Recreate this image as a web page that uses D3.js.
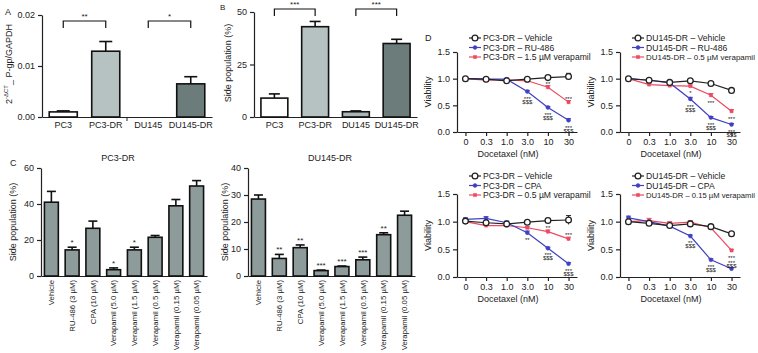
<!DOCTYPE html>
<html>
<head>
<meta charset="utf-8">
<script src="https://cdn.jsdelivr.net/npm/d3@7"></script>
<style>
body { margin: 0; background: #fff; }
text { font-family: "Liberation Sans", Arial, sans-serif; fill: #222; }
.axis path, .axis line { stroke: #222; stroke-width: 1.2; }
</style>
</head>
<body>
<div id="chart"></div>
<script>
// ---- panel A: qPCR P-gp
const cellLines = ["PC3", "PC3-DR", "DU145", "DU145-DR"];
const pgpValues = [0.001, 0.0129, 0, 0.0065];
const pgpErrors = [0.0002, 0.0019, 0, 0.0014];
const pgpTicks = [0, 0.01, 0.02];

// ---- panel B: side population
const spValues = [9, 43, 2.5, 35];
const spErrors = [2, 2.5, 0.4, 2];
const spTicks = [0, 25, 50];
const lineColors = ["#ffffff", "#b6c2c2", "#aab5b5", "#6c7c7b"];

// ---- panel C: side population after treatment
const treatments = ["Vehicle", "RU-486 (3 µM)", "CPA (10 µM)", "Verapamil (5.0 µM)",
    "Verapamil (1.5 µM)", "Verapamil (0.5 µM)", "Verapamil (0.15 µM)", "Verapamil (0.05 µM)"];
const pc3Sp = [41, 14.5, 26.5, 3.5, 14.5, 21.5, 39, 50];
const pc3SpErr = [6, 1.5, 4, 1, 1.5, 1, 3.5, 3];
const pc3SpStars = ["", "*", "", "*", "*", "", "", ""];
const duSp = [28.5, 6.5, 10.5, 2, 3.5, 6, 15.3, 22.5];
const duSpErr = [1.5, 1.5, 1, 0.2, 0.2, 1, 0.7, 1.5];
const duSpStars = ["", "**", "**", "***", "***", "***", "**", ""];

// ---- panel D: viability vs docetaxel
const doses = ["0", "0.3", "1.0", "3.0", "10", "30"];
const viaTicks = [0, 0.5, 1.0, 1.5];

const pc3VehicleA = [1.00, 0.99, 0.96, 0.99, 1.02, 1.04];
const pc3VehicleAErr = [0.02, 0.02, 0.03, 0.03, 0.04, 0.06];
const pc3Ru486 = [1.00, 0.99, 0.99, 0.76, 0.46, 0.22];
const pc3Ru486Err = [0.02, 0.02, 0.02, 0.02, 0.02, 0.03];
const pc3Ver15 = [1.00, 0.97, 0.98, 0.96, 0.84, 0.56];
const pc3Ver15Err = [0.02, 0.02, 0.02, 0.02, 0.03, 0.03];

const duVehicleA = [1.00, 0.97, 0.93, 0.96, 0.91, 0.78];
const duVehicleAErr = [0.02, 0.02, 0.02, 0.02, 0.02, 0.02];
const duRu486 = [1.00, 0.97, 0.92, 0.62, 0.27, 0.14];
const duRu486Err = [0.02, 0.02, 0.02, 0.03, 0.02, 0.02];
const duVer05 = [1.00, 0.89, 0.87, 0.86, 0.69, 0.39];
const duVer05Err = [0.02, 0.02, 0.02, 0.02, 0.03, 0.03];

const pc3VehicleB = [1.01, 0.98, 0.96, 0.99, 1.02, 1.03];
const pc3VehicleBErr = [0.03, 0.02, 0.02, 0.03, 0.04, 0.08];
const pc3Cpa = [1.04, 1.06, 0.98, 0.80, 0.52, 0.24];
const pc3CpaErr = [0.03, 0.03, 0.03, 0.03, 0.02, 0.02];
const pc3Ver05 = [1.00, 0.93, 0.93, 0.89, 0.82, 0.69];
const pc3Ver05Err = [0.02, 0.02, 0.02, 0.02, 0.03, 0.03];

const duVehicleB = [1.00, 0.97, 0.93, 0.96, 0.91, 0.78];
const duVehicleBErr = [0.02, 0.02, 0.02, 0.02, 0.02, 0.02];
const duCpa = [1.07, 1.00, 0.92, 0.74, 0.31, 0.15];
const duCpaErr = [0.03, 0.02, 0.02, 0.02, 0.02, 0.02];
const duVer015 = [1.00, 1.02, 0.97, 0.99, 0.89, 0.48];
const duVer015Err = [0.03, 0.04, 0.03, 0.03, 0.02, 0.02];

const BLUE = "#4040c0", RED = "#ec4a60";
const W = 758, H = 353;

const svg = d3.select("#chart").append("svg")
    .attr("width", W)
    .attr("height", H);

function label(txt, x, y, size, anchor) {
    return svg.append("text").attr("x", x).attr("y", y)
        .attr("font-size", size).attr("text-anchor", anchor || "start").text(txt);
}

function yTitle(txt, x, y, size) {
    return svg.append("text").attr("transform", `translate(${x},${y}) rotate(-90)`)
        .attr("text-anchor", "middle").attr("font-size", size).text(txt);
}

// generic bar panel
function barPanel(c) {
    var x = d3.scaleBand().domain(c.cats).range([c.left, c.right])
        .paddingInner(c.pad).paddingOuter(c.pad / 2);
    var y = d3.scaleLinear().domain([0, c.max]).range([c.bottom, c.top]);
    var g = svg.append("g");

    g.append("g").attr("class", "axis")
        .attr("transform", `translate(${c.left},0)`)
        .call(d3.axisLeft(y).tickValues(c.ticks).tickFormat(c.fmt).tickSize(4).tickSizeOuter(0))
        .call(a => a.selectAll("text").attr("font-size", 9).attr("font-family", null));

    var xa = g.append("g").attr("class", "axis")
        .attr("transform", `translate(0,${c.bottom})`)
        .call(d3.axisBottom(x).tickSize(0).tickPadding(5).tickSizeOuter(0));
    xa.selectAll("text").attr("font-size", c.xFont || 9).attr("font-family", null);
    if (c.rotate) {
        xa.selectAll("text")
            .attr("transform", "rotate(-90)")
            .attr("text-anchor", "end")
            .attr("x", -4).attr("y", 0).attr("dy", "0.35em");
    }

    var items = c.vals.map((v, i) => ({ v: v, e: c.errs[i], cat: c.cats[i], i: i }))
        .filter(d => d.v > 0);

    g.selectAll("rect.bar").data(items).join("rect")
        .attr("class", "bar")
        .attr("x", d => x(d.cat))
        .attr("width", x.bandwidth())
        .attr("y", d => y(d.v))
        .attr("height", d => y(0) - y(d.v))
        .attr("fill", d => c.colors ? c.colors[d.i] : c.color)
        .attr("stroke", "#111")
        .attr("stroke-width", 1.6);

    var cap = c.cap;
    var eb = g.selectAll("g.err").data(items).join("g").attr("class", "err");
    eb.append("line")
        .attr("x1", d => x(d.cat) + x.bandwidth() / 2).attr("x2", d => x(d.cat) + x.bandwidth() / 2)
        .attr("y1", d => y(d.v)).attr("y2", d => y(d.v + d.e))
        .attr("stroke", "#111").attr("stroke-width", 1.6);
    eb.append("line")
        .attr("x1", d => x(d.cat) + x.bandwidth() / 2 - cap / 2)
        .attr("x2", d => x(d.cat) + x.bandwidth() / 2 + cap / 2)
        .attr("y1", d => y(d.v + d.e)).attr("y2", d => y(d.v + d.e))
        .attr("stroke", "#111").attr("stroke-width", 1.6);

    if (c.stars) {
        g.selectAll("text.star").data(items).join("text")
            .attr("class", "star")
            .attr("x", d => x(d.cat) + x.bandwidth() / 2)
            .attr("y", d => y(d.v + d.e) - 2)
            .attr("text-anchor", "middle")
            .attr("font-size", 8)
            .text(d => c.stars[d.i]);
    }

    if (c.brackets) {
        c.brackets.forEach(b => {
            var x1 = x(c.cats[b[0]]) + x.bandwidth() / 2;
            var x2 = x(c.cats[b[1]]) + x.bandwidth() / 2;
            g.append("path")
                .attr("d", `M${x1},${c.brTop + 7}V${c.brTop}H${x2}V${c.brTop + 7}`)
                .attr("fill", "none").attr("stroke", "#111").attr("stroke-width", 1.2);
            g.append("text").attr("x", (x1 + x2) / 2).attr("y", c.brTop - 2)
                .attr("text-anchor", "middle").attr("font-size", 8).text(b[2]);
        });
    }
    return { x: x, y: y, g: g };
}

// ---- A
var pA = barPanel({
    cats: cellLines, vals: pgpValues, errs: pgpErrors, colors: lineColors,
    left: 42, right: 212, top: 15, bottom: 117, max: 0.02, pad: 0.34,
    ticks: pgpTicks, fmt: d3.format(".2f"), cap: 13,
    brackets: [[0, 1, "**"], [2, 3, "*"]], brTop: 21
});
// small tick marking the empty DU145 slot
pA.g.append("line")
    .attr("x1", pA.x("DU145") - pA.x.step() * pA.x.paddingInner() / 2)
    .attr("x2", pA.x("DU145") - pA.x.step() * pA.x.paddingInner() / 2)
    .attr("y1", 117).attr("y2", 121).attr("stroke", "#222").attr("stroke-width", 1);
label("A", 5, 15, 9);
var tA = svg.append("text").attr("transform", "translate(12,64) rotate(-90)")
    .attr("text-anchor", "middle").attr("font-size", 9);
tA.append("tspan").text("2");
tA.append("tspan").attr("font-size", 6).attr("dy", -4).text("-ΔCT");
tA.append("tspan").attr("dy", 4).text("_ P-gp/GAPDH");

// ---- B
barPanel({
    cats: cellLines, vals: spValues, errs: spErrors, colors: lineColors,
    left: 254, right: 417, top: 12, bottom: 117, max: 50, pad: 0.34,
    ticks: spTicks, fmt: d3.format("d"), cap: 11,
    brackets: [[0, 1, "***"], [2, 3, "***"]], brTop: 9
});
label("B", 220, 10, 8);
yTitle("Side population (%)", 231, 63, 9);

// ---- C
barPanel({
    cats: treatments, vals: pc3Sp, errs: pc3SpErr, color: "#8d9c9a",
    left: 41, right: 207, top: 168, bottom: 276, max: 60, pad: 0.33,
    ticks: [0, 20, 40, 60], fmt: d3.format("d"), cap: 9, stars: pc3SpStars,
    rotate: true, xFont: 7.8
});
label("C", 10, 166, 9);
label("PC3-DR", 118, 161, 9, "middle");
yTitle("Side population (%)", 16, 222, 9);

barPanel({
    cats: treatments, vals: duSp, errs: duSpErr, color: "#8d9c9a",
    left: 248, right: 415, top: 168, bottom: 276, max: 40, pad: 0.33,
    ticks: [0, 10, 20, 30, 40], fmt: d3.format("d"), cap: 9, stars: duSpStars,
    rotate: true, xFont: 7.8
});
label("DU145-DR", 330, 161, 9, "middle");
yTitle("Side population (%)", 228, 222, 9);

// ---- D line panels
function linePanel(c) {
    var x = d3.scalePoint().domain(doses).range([c.left, c.left + 120]).padding(0.41);
    var y = d3.scaleLinear().domain([0, 1.5]).range([c.bottom, c.top]);
    var g = svg.append("g");

    g.append("g").attr("class", "axis")
        .attr("transform", `translate(${c.left},0)`)
        .call(d3.axisLeft(y).tickValues(viaTicks).tickFormat(d3.format(".1f")).tickSize(4).tickSizeOuter(0))
        .call(a => a.selectAll("text").attr("font-size", 9).attr("font-family", null));
    g.append("g").attr("class", "axis")
        .attr("transform", `translate(0,${c.bottom})`)
        .call(d3.axisBottom(x).tickSize(4).tickSizeOuter(0))
        .call(a => a.selectAll("text").attr("font-size", 9).attr("font-family", null));

    g.append("text").attr("x", c.left + 51).attr("y", c.bottom + 25)
        .attr("text-anchor", "middle").attr("font-size", 9).text("Docetaxel (nM)");
    yTitle("Viability", c.left - 26, (c.top + c.bottom) / 2, 9);

    var line = d3.line().x((d, i) => x(doses[i])).y(d => y(d));

    // draw coloured series first, vehicle on top
    var order = [2, 1, 0];
    order.forEach(k => {
        var s = c.series[k];
        g.append("path").attr("d", line(s.vals))
            .attr("fill", "none").attr("stroke", s.color).attr("stroke-width", 1.2);
        s.vals.forEach((v, i) => {
            var cx = x(doses[i]);
            g.append("line").attr("x1", cx).attr("x2", cx)
                .attr("y1", y(v - s.errs[i])).attr("y2", y(v + s.errs[i]))
                .attr("stroke", s.color).attr("stroke-width", 1);
            g.append("line").attr("x1", cx - 2.5).attr("x2", cx + 2.5)
                .attr("y1", y(v + s.errs[i])).attr("y2", y(v + s.errs[i]))
                .attr("stroke", s.color).attr("stroke-width", 1);
        });
        g.selectAll(null).data(s.vals).join("path")
            .attr("transform", (d, i) => `translate(${x(doses[i])},${y(d)})`)
            .attr("d", d3.symbol(s.shape, s.size))
            .attr("fill", s.open ? "#fff" : s.color)
            .attr("stroke", s.color).attr("stroke-width", s.open ? 1.3 : 0.5);
    });

    // legend
    c.series.forEach((s, k) => {
        var ly = c.legendY + k * 9.5;
        g.append("line").attr("x1", c.left + 12).attr("x2", c.left + 24)
            .attr("y1", ly).attr("y2", ly).attr("stroke", s.color).attr("stroke-width", 1.2);
        g.append("path").attr("transform", `translate(${c.left + 18},${ly})`)
            .attr("d", d3.symbol(s.shape, s.size))
            .attr("fill", s.open ? "#fff" : s.color)
            .attr("stroke", s.color).attr("stroke-width", s.open ? 1.3 : 0.5);
        var t = g.append("text").attr("x", c.left + 26).attr("y", ly + 3.1)
            .attr("font-size", 8.6).text(s.name);
        // shrink long entries that would run past the right edge
        var len = t.node().getComputedTextLength();
        var room = W - 3 - (c.left + 26);
        if (len > room) t.attr("font-size", 8.6 * room / len);
    });

    // significance marks
    c.marks.forEach(m => {
        var s = c.series[m.s];
        var v = s.vals[m.i];
        var cx = x(doses[m.i]);
        var lines = m.t.split("\n");
        lines.forEach((t, j) => {
            var ty = m.above ? y(v + s.errs[m.i]) - 2 - (lines.length - 1 - j) * 5
                : y(v - s.errs[m.i]) + 6 + j * 5;
            g.append("text").attr("x", cx).attr("y", ty + (t.indexOf("*") >= 0 ? 2 : 0))
                .attr("text-anchor", "middle").attr("font-size", 6).text(t);
        });
    });
}

function series3(names, vals, errs) {
    return [
        { name: names[0], vals: vals[0], errs: errs[0], color: "#222", shape: d3.symbolCircle, size: 26, open: true },
        { name: names[1], vals: vals[1], errs: errs[1], color: BLUE, shape: d3.symbolCircle, size: 12 },
        { name: names[2], vals: vals[2], errs: errs[2], color: RED, shape: d3.symbolSquare, size: 10 }
    ];
}

linePanel({
    left: 457, top: 52, bottom: 132, legendY: 38,
    series: series3(["PC3-DR – Vehicle", "PC3-DR – RU-486", "PC3-DR – 1.5 µM verapamil"],
        [pc3VehicleA, pc3Ru486, pc3Ver15], [pc3VehicleAErr, pc3Ru486Err, pc3Ver15Err]),
    marks: [
        { s: 1, i: 3, t: "***\n$$$" }, { s: 1, i: 4, t: "***\n$$$" }, { s: 1, i: 5, t: "***\n$$$" },
        { s: 2, i: 4, t: "**", above: true }, { s: 2, i: 5, t: "***", above: true }
    ]
});
label("D", 425, 41, 9);

linePanel({
    left: 620, top: 52, bottom: 132, legendY: 38,
    series: series3(["DU145-DR – Vehicle", "DU145-DR – RU-486", "DU145-DR – 0.5 µM verapamil"],
        [duVehicleA, duRu486, duVer05], [duVehicleAErr, duRu486Err, duVer05Err]),
    marks: [
        { s: 2, i: 3, t: "*" }, { s: 1, i: 3, t: "***\n$$$" },
        { s: 2, i: 4, t: "***" }, { s: 1, i: 4, t: "***\n$$$" },
        { s: 2, i: 5, t: "***" }, { s: 1, i: 5, t: "***\n$$$" }
    ]
});

linePanel({
    left: 457, top: 194, bottom: 277, legendY: 176,
    series: series3(["PC3-DR – Vehicle", "PC3-DR – CPA", "PC3-DR – 0.5 µM verapamil"],
        [pc3VehicleB, pc3Cpa, pc3Ver05], [pc3VehicleBErr, pc3CpaErr, pc3Ver05Err]),
    marks: [
        { s: 1, i: 3, t: "**" }, { s: 2, i: 4, t: "**", above: true }, { s: 1, i: 4, t: "***\n$$$" },
        { s: 2, i: 5, t: "***", above: true }, { s: 1, i: 5, t: "***\n$$$" }
    ]
});

linePanel({
    left: 620, top: 194, bottom: 277, legendY: 176,
    series: series3(["DU145-DR – Vehicle", "DU145-DR – CPA", "DU145-DR – 0.15 µM verapamil"],
        [duVehicleB, duCpa, duVer015], [duVehicleBErr, duCpaErr, duVer015Err]),
    marks: [
        { s: 1, i: 3, t: "**\n$$$" }, { s: 1, i: 4, t: "***\n$$$" }, { s: 2, i: 5, t: "***\n***\n$$$" }
    ]
});
</script>
</body>
</html>
